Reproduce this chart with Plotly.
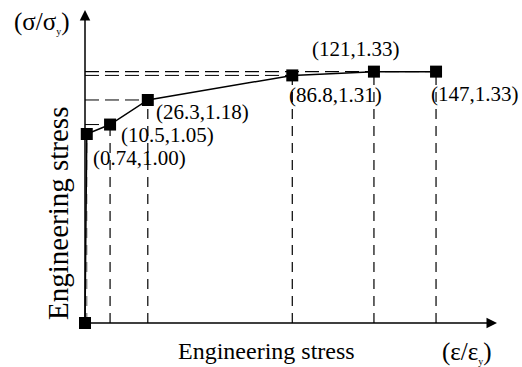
import plotly.graph_objects as go

# Normalised engineering stress-strain points
strain = [0, 0.74, 10.5, 26.3, 86.8, 121, 147]
stress = [0, 1.00, 1.05, 1.18, 1.31, 1.33, 1.33]
point_labels = ["", "(0.74,1.00)", "(10.5,1.05)", "(26.3,1.18)",
                "(86.8,1.31)", "(121,1.33)", "(147,1.33)"]

x_title = "Engineering stress"
y_title = "Engineering stress"
x_unit = "(\u03b5/\u03b5<sub><span style='font-size:10px'>y</span></sub>)"
y_unit = "(\u03c3/\u03c3<sub><span style='font-size:10px'>y</span></sub>)"

W, H = 522, 367
FONT = "Liberation Serif, Times New Roman, serif"

# pixel <-> data mapping (origin at px 85, 323)
X0, XS = 85, 2.388
Y0, YS = 323, 189
x_range = [-X0 / XS, (W - X0) / XS]
y_range = [-(H - Y0) / YS, Y0 / YS]

fig = go.Figure()

# dashed guide lines from every point to both axes
for i, (x, y) in enumerate(zip(strain, stress)):
    if i == 0:
        continue
    col = "#777777" if i == 1 else "black"
    fig.add_trace(go.Scatter(x=[x, x], y=[0, y], mode="lines",
                             line=dict(color=col, width=1.2, dash="10px,7px"),
                             hoverinfo="skip", showlegend=False))
    fig.add_trace(go.Scatter(x=[0, x], y=[y, y], mode="lines",
                             line=dict(color="black", width=1.0, dash="14px,6px"),
                             hoverinfo="skip", showlegend=False))

# the curve itself
fig.add_trace(go.Scatter(x=strain, y=stress, mode="lines+markers",
                         line=dict(color="black", width=1.5),
                         marker=dict(symbol="square", size=12, color="black"),
                         showlegend=False))

# axes with arrow heads
x_tip = (497 - X0) / XS
y_tip = (Y0 - 10) / YS
fig.add_annotation(x=x_tip, y=0, ax=0, ay=0, xref="x", yref="y",
                   axref="x", ayref="y", showarrow=True, arrowhead=2,
                   arrowsize=1.4, arrowwidth=1.5, arrowcolor="black", text="")
fig.add_annotation(x=0, y=y_tip, ax=0, ay=0, xref="x", yref="y",
                   axref="x", ayref="y", showarrow=True, arrowhead=2,
                   arrowsize=1.4, arrowwidth=1.5, arrowcolor="black", text="")

# point labels with their offsets in pixels
offsets = [None, (4, -24, "left"), (9, -10, "left"), (6, -12, "left"),
           (-5, -20, "left"), (-18, 23, "center"), (-7, -22, "left")]
for x, y, t, off in zip(strain, stress, point_labels, offsets):
    if not t:
        continue
    dx, dy, anc = off
    fig.add_annotation(x=x, y=y, text=t, showarrow=False, xanchor=anc,
                       yanchor="middle", xshift=dx, yshift=dy,
                       font=dict(family=FONT, size=21, color="black"))

# axis titles and units
fig.add_annotation(x=266 / W, y=1 - 351 / H, xref="paper", yref="paper",
                   text=x_title, showarrow=False, xanchor="center",
                   yanchor="middle",
                   font=dict(family=FONT, size=24, color="black"))
fig.add_annotation(x=58 / W, y=1 - 214 / H, xref="paper", yref="paper",
                   text=y_title, showarrow=False, textangle=-90,
                   xanchor="center", yanchor="middle",
                   font=dict(family=FONT, size=29, color="black"))
fig.add_annotation(x=467 / W, y=1 - 352 / H, xref="paper", yref="paper",
                   text=x_unit, showarrow=False, xanchor="center",
                   yanchor="middle",
                   font=dict(family=FONT, size=25, color="black"))
fig.add_annotation(x=42 / W, y=1 - 22 / H, xref="paper", yref="paper",
                   text=y_unit, showarrow=False, xanchor="center",
                   yanchor="middle",
                   font=dict(family=FONT, size=25, color="black"))

fig.update_layout(
    width=W, height=H,
    margin=dict(l=0, r=0, t=0, b=0),
    paper_bgcolor="white", plot_bgcolor="white",
    xaxis=dict(range=x_range, visible=False, fixedrange=True),
    yaxis=dict(range=y_range, visible=False, fixedrange=True),
)

fig.write_html("out.html")
